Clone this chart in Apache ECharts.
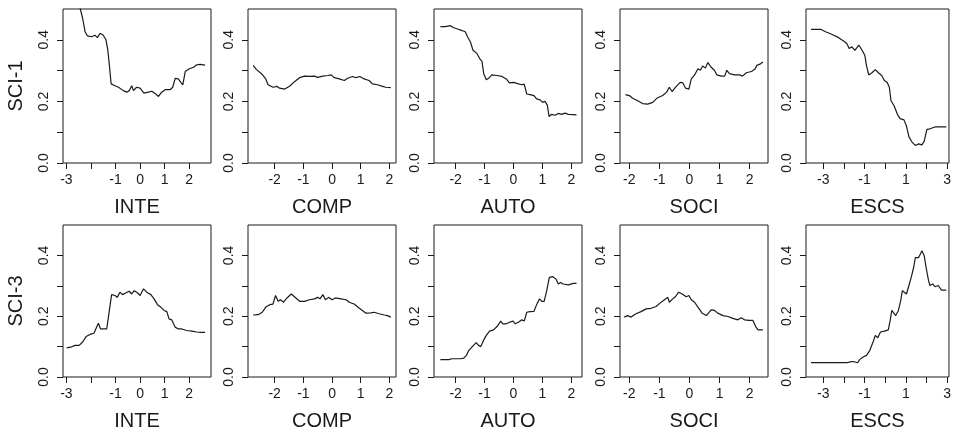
<!DOCTYPE html>
<html>
<head>
<meta charset="utf-8">
<script src="https://cdn.jsdelivr.net/npm/echarts@6/dist/echarts.min.js"></script>
<style>
  html, body { margin: 0; padding: 0; background: #fff; }
  #chart { width: 954px; height: 432px; }
</style>
</head>
<body>
<div id="chart"></div>
<script>
// row labels and column (predictor) names
const rowNames = ['SCI-1', 'SCI-3'];
const colNames = ['INTE', 'COMP', 'AUTO', 'SOCI', 'ESCS'];

// x tick positions / labelled ticks per predictor
const xTicks = [[-3, -2, -1, 0, 1, 2], [-2, -1, 0, 1, 2], [-2, -1, 0, 1, 2], [-2, -1, 0, 1, 2], [-3, -2, -1, 0, 1, 2, 3]];
const xTickLabels = [[-3, -1, 0, 1, 2], [-2, -1, 0, 1, 2], [-2, -1, 0, 1, 2], [-2, -1, 0, 1, 2], [-3, -1, 1, 3]];
const xRanges = [[-3.14, 2.89], [-2.93, 2.23], [-2.75, 2.37], [-2.31, 2.61], [-3.84, 3.09]];
const yTicks = [0, 0.1, 0.2, 0.3, 0.4];
const yTickLabels = [0, 0.2, 0.4];

// SCI-1 curves
const sci1Inte = [[-2.94,0.62],[-2.7,0.56],[-2.45,0.505],[-2.34,0.47],[-2.24,0.426],[-2.15,0.413],[-1.97,0.41],[-1.84,0.415],[-1.74,0.407],[-1.63,0.421],[-1.5,0.415],[-1.39,0.4],[-1.32,0.37],[-1.25,0.317],[-1.18,0.257],[-1.02,0.251],[-0.88,0.246],[-0.68,0.235],[-0.54,0.23],[-0.44,0.235],[-0.34,0.251],[-0.27,0.235],[-0.14,0.246],[0,0.243],[0.16,0.227],[0.34,0.23],[0.48,0.233],[0.61,0.226],[0.75,0.216],[0.88,0.23],[1.02,0.238],[1.22,0.238],[1.33,0.246],[1.43,0.275],[1.56,0.273],[1.66,0.262],[1.74,0.254],[1.84,0.297],[2.01,0.306],[2.18,0.311],[2.31,0.319],[2.45,0.32],[2.65,0.318]];
const sci1Comp = [[-2.75,0.317],[-2.64,0.304],[-2.46,0.29],[-2.31,0.273],[-2.23,0.254],[-2.06,0.246],[-1.92,0.249],[-1.83,0.243],[-1.65,0.24],[-1.48,0.249],[-1.31,0.264],[-1.13,0.277],[-0.96,0.282],[-0.79,0.281],[-0.61,0.282],[-0.5,0.278],[-0.32,0.282],[-0.15,0.284],[-0.03,0.286],[0.08,0.277],[0.25,0.273],[0.43,0.268],[0.54,0.275],[0.72,0.281],[0.83,0.277],[0.97,0.281],[1.12,0.273],[1.29,0.268],[1.41,0.257],[1.58,0.254],[1.76,0.249],[1.87,0.246],[2.05,0.245]];
const sci1Auto = [[-2.53,0.443],[-2.36,0.443],[-2.18,0.446],[-2.07,0.439],[-1.93,0.435],[-1.78,0.43],[-1.67,0.426],[-1.59,0.41],[-1.49,0.393],[-1.4,0.366],[-1.26,0.355],[-1.17,0.339],[-1.09,0.33],[-1.03,0.29],[-0.94,0.27],[-0.86,0.275],[-0.75,0.286],[-0.57,0.284],[-0.4,0.281],[-0.25,0.273],[-0.14,0.26],[0,0.262],[0.17,0.257],[0.29,0.254],[0.37,0.256],[0.46,0.224],[0.57,0.222],[0.71,0.219],[0.8,0.208],[0.92,0.205],[1.01,0.197],[1.09,0.2],[1.17,0.188],[1.23,0.151],[1.32,0.158],[1.44,0.155],[1.55,0.161],[1.67,0.158],[1.78,0.162],[1.9,0.158],[2.07,0.157],[2.18,0.156]];
const sci1Soci = [[-2.13,0.222],[-2,0.219],[-1.89,0.21],[-1.72,0.202],[-1.56,0.193],[-1.39,0.191],[-1.22,0.197],[-1.09,0.21],[-0.89,0.219],[-0.76,0.23],[-0.67,0.246],[-0.58,0.232],[-0.44,0.249],[-0.31,0.262],[-0.22,0.26],[-0.13,0.243],[-0.02,0.24],[0.06,0.273],[0.17,0.286],[0.28,0.306],[0.36,0.301],[0.44,0.315],[0.53,0.308],[0.61,0.326],[0.72,0.311],[0.83,0.301],[0.91,0.286],[1.06,0.282],[1.17,0.282],[1.24,0.301],[1.33,0.29],[1.5,0.286],[1.67,0.286],[1.76,0.282],[1.89,0.293],[2.06,0.297],[2.17,0.304],[2.24,0.317],[2.36,0.322],[2.44,0.328]];
const sci1Escs = [[-3.6,0.434],[-3.13,0.434],[-2.89,0.426],[-2.57,0.417],[-2.26,0.407],[-2.02,0.396],[-1.86,0.388],[-1.75,0.372],[-1.62,0.377],[-1.47,0.366],[-1.28,0.383],[-1.12,0.366],[-0.99,0.35],[-0.91,0.317],[-0.8,0.286],[-0.64,0.293],[-0.48,0.303],[-0.33,0.293],[-0.17,0.284],[-0.04,0.268],[0.09,0.262],[0.2,0.246],[0.28,0.202],[0.43,0.186],[0.59,0.158],[0.72,0.144],[0.91,0.14],[1.03,0.12],[1.15,0.085],[1.3,0.068],[1.46,0.057],[1.62,0.062],[1.78,0.059],[1.89,0.071],[2.02,0.109],[2.17,0.111],[2.41,0.117],[2.73,0.117],[2.96,0.117]];

// SCI-3 curves
const sci3Inte = [[-2.99,0.096],[-2.83,0.098],[-2.65,0.104],[-2.48,0.104],[-2.34,0.115],[-2.2,0.133],[-2.04,0.14],[-1.88,0.144],[-1.8,0.148],[-1.7,0.177],[-1.61,0.158],[-1.5,0.158],[-1.36,0.158],[-1.25,0.219],[-1.16,0.271],[-1.02,0.268],[-0.93,0.262],[-0.82,0.279],[-0.71,0.271],[-0.57,0.277],[-0.44,0.282],[-0.34,0.273],[-0.24,0.284],[-0.11,0.277],[0,0.268],[0.14,0.29],[0.27,0.279],[0.44,0.271],[0.57,0.257],[0.71,0.238],[0.84,0.23],[0.98,0.219],[1.09,0.215],[1.18,0.191],[1.29,0.188],[1.43,0.164],[1.56,0.158],[1.7,0.158],[1.9,0.153],[2.11,0.151],[2.31,0.148],[2.45,0.147],[2.65,0.147]];
const sci3Comp = [[-2.75,0.204],[-2.58,0.205],[-2.43,0.213],[-2.31,0.23],[-2.17,0.238],[-2.06,0.24],[-1.97,0.268],[-1.88,0.249],[-1.8,0.254],[-1.69,0.246],[-1.57,0.26],[-1.42,0.273],[-1.31,0.264],[-1.13,0.249],[-0.96,0.249],[-0.79,0.254],[-0.61,0.257],[-0.5,0.262],[-0.42,0.257],[-0.32,0.271],[-0.23,0.254],[-0.12,0.262],[0,0.254],[0.12,0.26],[0.31,0.257],[0.49,0.254],[0.6,0.246],[0.77,0.24],[0.95,0.226],[1.06,0.219],[1.18,0.21],[1.35,0.211],[1.47,0.213],[1.64,0.208],[1.82,0.204],[1.93,0.202],[2.05,0.197]];
const sci3Auto = [[-2.53,0.057],[-2.24,0.057],[-2.13,0.06],[-1.84,0.06],[-1.72,0.062],[-1.63,0.071],[-1.55,0.087],[-1.44,0.098],[-1.29,0.113],[-1.21,0.104],[-1.13,0.1],[-1.03,0.122],[-0.94,0.137],[-0.83,0.151],[-0.69,0.155],[-0.57,0.166],[-0.44,0.184],[-0.37,0.175],[-0.25,0.175],[-0.14,0.18],[-0.02,0.184],[0.06,0.175],[0.17,0.18],[0.29,0.188],[0.37,0.184],[0.46,0.213],[0.57,0.215],[0.71,0.216],[0.8,0.238],[0.9,0.257],[0.98,0.249],[1.06,0.249],[1.15,0.284],[1.24,0.328],[1.36,0.33],[1.47,0.322],[1.55,0.306],[1.63,0.311],[1.72,0.306],[1.9,0.303],[2.07,0.308],[2.18,0.308]];
const sci3Soci = [[-2.17,0.197],[-2.06,0.202],[-1.94,0.197],[-1.78,0.208],[-1.61,0.215],[-1.44,0.224],[-1.28,0.226],[-1.11,0.232],[-0.98,0.243],[-0.83,0.254],[-0.72,0.262],[-0.67,0.246],[-0.56,0.257],[-0.47,0.264],[-0.36,0.279],[-0.24,0.273],[-0.11,0.264],[-0.02,0.268],[0.06,0.254],[0.17,0.246],[0.28,0.23],[0.42,0.21],[0.56,0.202],[0.61,0.208],[0.72,0.221],[0.83,0.219],[0.94,0.21],[1.11,0.202],[1.28,0.199],[1.44,0.193],[1.61,0.188],[1.72,0.195],[1.83,0.188],[1.98,0.186],[2.11,0.186],[2.2,0.166],[2.28,0.155],[2.44,0.155]];
const sci3Escs = [[-3.6,0.047],[-2.89,0.047],[-2.1,0.047],[-1.86,0.047],[-1.7,0.05],[-1.54,0.051],[-1.47,0.055],[-1.34,0.047],[-1.23,0.058],[-1.07,0.066],[-0.91,0.071],[-0.75,0.087],[-0.59,0.115],[-0.48,0.137],[-0.36,0.129],[-0.23,0.148],[-0.04,0.151],[0.15,0.155],[0.24,0.186],[0.32,0.219],[0.4,0.219],[0.51,0.202],[0.64,0.219],[0.75,0.251],[0.83,0.284],[0.91,0.286],[1.03,0.273],[1.15,0.301],[1.26,0.328],[1.38,0.361],[1.46,0.393],[1.62,0.393],[1.7,0.404],[1.78,0.415],[1.89,0.399],[1.98,0.361],[2.1,0.317],[2.17,0.301],[2.3,0.306],[2.41,0.297],[2.57,0.301],[2.73,0.286],[2.96,0.286]];

const curves = [
  [sci1Inte, sci1Comp, sci1Auto, sci1Soci, sci1Escs],
  [sci3Inte, sci3Comp, sci3Auto, sci3Soci, sci3Escs]
];

const ink = '#1a1a1a';
const font = '"Liberation Sans", Arial, sans-serif';
const lefts = [63, 248, 434, 620, 806];
const widths = [148, 148, 148, 148, 146];
const tops = [9, 225];

const grid = [], xAxis = [], yAxis = [], series = [];
rowNames.forEach((rowName, r) => {
  colNames.forEach((colName, c) => {
    const i = grid.length;
    grid.push({
      left: lefts[c], top: tops[r], width: widths[c], height: 154,
      show: true, borderColor: ink, borderWidth: 1, backgroundColor: 'transparent'
    });
    xAxis.push({
      type: 'value', gridIndex: i,
      min: xRanges[c][0], max: xRanges[c][1],
      name: colName, nameLocation: 'middle', nameGap: 34,
      nameTextStyle: { fontFamily: font, fontSize: 20, color: ink },
      axisLine: { show: false, onZero: false },
      axisTick: { show: true, length: 6, customValues: xTicks[c], lineStyle: { color: ink } },
      axisLabel: { customValues: xTickLabels[c], margin: 10, fontFamily: font, fontSize: 14, color: ink,
        formatter: v => String(v) },
      splitLine: { show: false }
    });
    yAxis.push({
      type: 'value', gridIndex: i, min: 0, max: 0.5,
      name: c === 0 ? rowName : '', nameLocation: 'middle', nameRotate: 90, nameGap: 37,
      nameTextStyle: { fontFamily: font, fontSize: 20, color: ink },
      axisLine: { show: false, onZero: false },
      axisTick: { show: true, length: 6, customValues: yTicks, lineStyle: { color: ink } },
      axisLabel: { customValues: yTickLabels, rotate: 90, margin: 12, fontFamily: font, fontSize: 14, color: ink,
        formatter: v => v.toFixed(1) },
      splitLine: { show: false }
    });
    series.push({
      type: 'line', xAxisIndex: i, yAxisIndex: i,
      data: curves[r][c], showSymbol: false, clip: true, silent: true,
      lineStyle: { color: ink, width: 1.2 }
    });
  });
});

const chart = echarts.init(document.getElementById('chart'), null, { renderer: 'canvas' });
chart.setOption({ animation: false, grid, xAxis, yAxis, series });
</script>
</body>
</html>
